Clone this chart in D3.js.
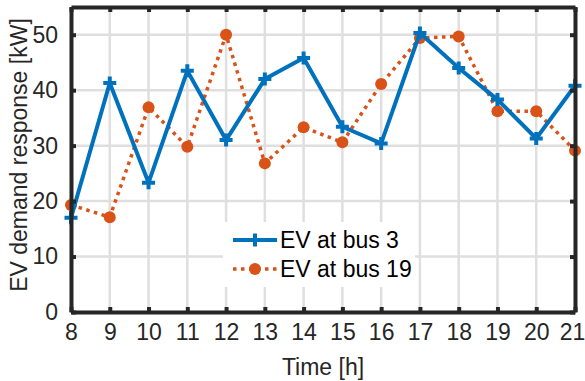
<!DOCTYPE html>
<html>
<head>
<meta charset="utf-8">
<script src="https://cdn.jsdelivr.net/npm/d3@7"></script>
<style>
  html, body { margin: 0; padding: 0; background: #fff; }
  svg { display: block; font-family: "Liberation Sans", Arial, Helvetica, sans-serif; }
</style>
</head>
<body>
<svg id="chart" width="585" height="381"></svg>
<script>
// Hourly EV demand response (kW) at two buses
const hours = [8, 9, 10, 11, 12, 13, 14, 15, 16, 17, 18, 19, 20, 21];
const bus3 = [17.0, 41.3, 23.3, 43.5, 31.0, 42.0, 45.8, 33.4, 30.4, 50.3, 44.0, 38.3, 31.3, 40.8];
const bus19 = [19.3, 17.1, 36.9, 29.8, 50.0, 26.8, 33.3, 30.6, 41.1, 49.4, 49.7, 36.2, 36.2, 29.1];
const xTicks = [8, 9, 10, 11, 12, 13, 14, 15, 16, 17, 18, 19, 20, 21];
const yTicks = [0, 10, 20, 30, 40, 50];
const seriesNames = ["EV at bus 3", "EV at bus 19"];

const W = 585, H = 381;
const m = { left: 71, right: 10, top: 7, bottom: 69 };
const svg = d3.select("#chart");

const x = d3.scaleLinear().domain([8, 21]).range([m.left, W - m.right]);
const y = d3.scaleLinear().domain([0, 55]).range([H - m.bottom, m.top]);

const axisColor = "#262626";
const blue = "#0072BD";
const orange = "#D95319";

// grid
const grid = svg.append("g");
grid.selectAll(".vg").data(xTicks).join("line")
  .attr("x1", d => x(d)).attr("x2", d => x(d))
  .attr("y1", y(55)).attr("y2", y(0))
  .attr("stroke", "#dfdfdf").attr("stroke-width", 2.5);
grid.selectAll(".hg").data(yTicks).join("line")
  .attr("x1", x(8)).attr("x2", x(21))
  .attr("y1", d => y(d)).attr("y2", d => y(d))
  .attr("stroke", "#dfdfdf").attr("stroke-width", 2.5);

// legend background sits above the grid
const legX = 223, legY = 222, legW = 192, legH = 65;
svg.append("rect").attr("x", legX).attr("y", legY).attr("width", legW).attr("height", legH)
  .attr("fill", "#fff");

// series lines
const line = d3.line().x((d, i) => x(hours[i])).y(d => y(d));

svg.append("path").datum(bus19).attr("d", line)
  .attr("fill", "none").attr("stroke", orange).attr("stroke-width", 3.5)
  .attr("stroke-dasharray", "3.5,4.5");
svg.append("g").selectAll("circle").data(bus19).join("circle")
  .attr("cx", (d, i) => x(hours[i])).attr("cy", d => y(d)).attr("r", 6)
  .attr("fill", orange);

svg.append("path").datum(bus3).attr("d", line)
  .attr("fill", "none").attr("stroke", blue).attr("stroke-width", 4)
  .attr("stroke-linejoin", "miter");
const plus = (cx, cy, s) => `M${cx - s},${cy}H${cx + s}M${cx},${cy - s}V${cy + s}`;
svg.append("g").selectAll("path").data(bus3).join("path")
  .attr("d", (d, i) => plus(x(hours[i]), y(d), 6.5))
  .attr("stroke", blue).attr("stroke-width", 4).attr("fill", "none");

// axes box with inward ticks
const fontSize = 23;
const bottomAxis = d3.axisBottom(x).tickValues(xTicks).tickFormat(d3.format("d"))
  .tickSizeInner(-5).tickSizeOuter(0).tickPadding(12);
const leftAxis = d3.axisLeft(y).tickValues(yTicks).tickFormat(d3.format("d"))
  .tickSizeInner(-5).tickSizeOuter(0).tickPadding(13);
const topAxis = d3.axisTop(x).tickValues(xTicks).tickFormat("")
  .tickSizeInner(-5).tickSizeOuter(0);
const rightAxis = d3.axisRight(y).tickValues(yTicks).tickFormat("")
  .tickSizeInner(-5).tickSizeOuter(0);

function style(g) {
  g.selectAll("path.domain").attr("stroke", axisColor).attr("stroke-width", 4);
  g.selectAll(".tick line").attr("stroke", axisColor).attr("stroke-width", 4);
  g.selectAll(".tick text").attr("fill", axisColor).attr("font-size", fontSize)
    .attr("font-family", "Liberation Sans, Arial, sans-serif");
}

const gx = svg.append("g").attr("transform", `translate(0,${y(0)})`).call(bottomAxis).call(style);
// keep the last hour label inside the canvas
gx.selectAll(".tick text").filter(d => d === 21).attr("dx", -3);
svg.append("g").attr("transform", `translate(${x(8)},0)`).call(leftAxis).call(style);
svg.append("g").attr("transform", `translate(0,${y(55)})`).call(topAxis).call(style);
svg.append("g").attr("transform", `translate(${x(21)},0)`).call(rightAxis).call(style);

// axis titles
svg.append("text").attr("x", (x(8) + x(21)) / 2).attr("y", 375)
  .attr("text-anchor", "middle").attr("font-size", fontSize).attr("fill", axisColor)
  .text("Time [h]");
svg.append("text")
  .attr("transform", `translate(27,155) rotate(-90)`)
  .attr("text-anchor", "middle").attr("font-size", fontSize).attr("fill", axisColor)
  .text("EV demand response [kW]");

// legend
const leg = svg.append("g");
const rows = [legY + 18, legY + 47];
leg.append("line").attr("x1", 233).attr("x2", 277).attr("y1", rows[0]).attr("y2", rows[0])
  .attr("stroke", blue).attr("stroke-width", 4);
leg.append("path").attr("d", plus(255, rows[0], 6.5)).attr("stroke", blue).attr("stroke-width", 4);
leg.append("line").attr("x1", 233).attr("x2", 277).attr("y1", rows[1]).attr("y2", rows[1])
  .attr("stroke", orange).attr("stroke-width", 3.5).attr("stroke-dasharray", "3.5,4.5");
leg.append("circle").attr("cx", 255).attr("cy", rows[1]).attr("r", 6).attr("fill", orange);
leg.selectAll("text").data(seriesNames).join("text")
  .attr("x", 280).attr("y", (d, i) => rows[i]).attr("dy", "0.35em")
  .attr("font-size", fontSize).attr("fill", "#000").text(d => d);
</script>
</body>
</html>
